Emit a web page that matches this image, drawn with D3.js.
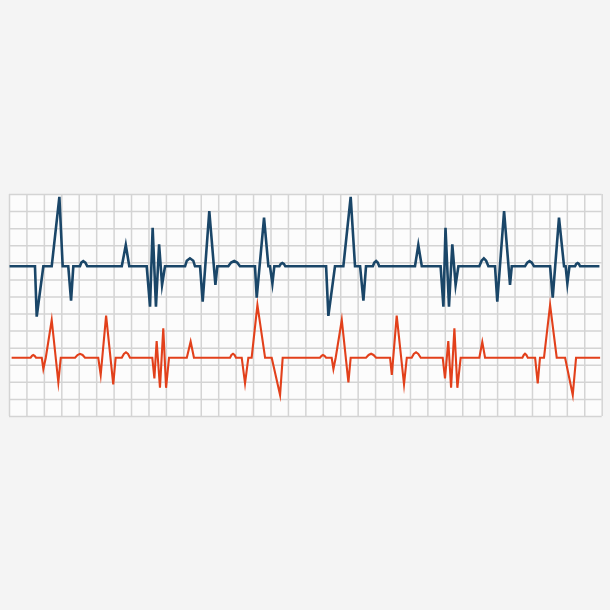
<!DOCTYPE html>
<html>
<head>
<meta charset="utf-8">
<script src="https://cdn.jsdelivr.net/npm/d3@7"></script>
<style>
  html, body { margin: 0; padding: 0; background: #f4f4f4; }
  svg { display: block; }
</style>
</head>
<body>
<svg id="chart" width="610" height="610"></svg>
<script>
// Grid (in large-square units)
const gridColumns = 34;
const gridRows = 13;

// Baselines of the two traces (grid units measured up from bottom)
const blueBaseline = 8.765;
const redBaseline = 3.413;

// Blue trace: time (grid columns) and amplitude (grid rows relative to baseline)
const blueTime = [
  0.03, 1.49, 1.59, 1.97, 2.45, 2.89, 3.08, 3.40, 3.56, 3.69,
  4.07, 4.15, 4.26, 4.38, 4.49, 6.47, 6.70, 6.90, 7.90, 8.09,
  8.24, 8.43, 8.61, 8.78, 8.95, 10.10, 10.20, 10.38, 10.57, 10.67,
  10.96, 11.11, 11.49, 11.84, 11.95, 12.58, 12.74, 12.92, 13.09, 13.25,
  14.11, 14.21, 14.63, 14.88, 14.97, 15.11, 15.22, 15.51, 15.59, 15.68,
  15.77, 15.85, 18.19, 18.32, 18.70, 19.18, 19.60, 19.85, 20.14, 20.33,
  20.48, 20.87, 20.96, 21.06, 21.15, 21.24, 23.29, 23.48, 23.68, 24.76,
  24.92, 25.04, 25.24, 25.43, 25.62, 25.78, 26.98, 27.11, 27.24, 27.37,
  27.50, 27.88, 28.01, 28.40, 28.74, 28.84, 29.60, 29.73, 29.86, 29.99,
  30.12, 31.04, 31.19, 31.55, 31.84, 31.93, 32.03, 32.15, 32.47, 32.54,
  32.62, 32.69, 32.76, 33.87
];
const blueAmp = [
  0, 0, -2.95, 0, 0, 4.07, 0, 0, -2.01, 0,
  0, 0.22, 0.31, 0.22, 0, 0, 1.25, 0, 0, -2.36,
  2.26, -2.36, 1.29, -1.09, 0, 0, 0.33, 0.47, 0.33, 0,
  0, -2.07, 3.24, -1.09, 0, 0, 0.22, 0.31, 0.22, 0,
  0, -1.84, 2.85, 0, 0, -1.0, 0, 0, 0.14, 0.19,
  0.14, 0, 0, -2.9, 0, 0, 4.07, 0, 0, -2.01,
  0, 0, 0.22, 0.31, 0.22, 0, 0, 1.25, 0, 0,
  -2.36, 2.26, -2.36, 1.29, -1.09, 0, 0, 0.33, 0.47, 0.33,
  0, 0, -2.07, 3.24, -1.09, 0, 0, 0.22, 0.31, 0.22,
  0, 0, -1.84, 2.85, 0, 0, -1.0, 0, 0, 0.14,
  0.19, 0.14, 0, 0
];

// Red trace
const redTime = [
  0.15, 1.24, 1.32, 1.39, 1.47, 1.55, 1.88, 1.97, 2.11, 2.45,
  2.83, 2.97, 3.79, 3.93, 4.07, 4.22, 4.36, 5.12, 5.26, 5.57,
  5.98, 6.12, 6.47, 6.59, 6.71, 6.83, 6.94, 8.22, 8.34, 8.47,
  8.66, 8.85, 9.01, 9.18, 10.20, 10.42, 10.61, 12.68, 12.76, 12.85,
  12.94, 13.02, 13.35, 13.54, 13.73, 13.92, 14.25, 14.69, 15.07, 15.55,
  15.70, 17.84, 17.93, 18.01, 18.10, 18.19, 18.51, 18.61, 18.74, 19.09,
  19.47, 19.60, 20.48, 20.63, 20.77, 20.91, 21.06, 21.86, 21.96, 22.24,
  22.66, 22.82, 23.10, 23.22, 23.35, 23.48, 23.62, 24.88, 25.01, 25.20,
  25.36, 25.55, 25.72, 25.91, 26.98, 27.15, 27.31, 29.45, 29.53, 29.60,
  29.68, 29.76, 30.18, 30.33, 30.46, 30.69, 31.04, 31.42, 31.90, 32.34,
  32.53, 33.91
];
const redAmp = [
  0, 0, 0.11, 0.16, 0.11, 0, 0, -0.66, 0, 2.21,
  -1.44, 0, 0, 0.16, 0.23, 0.16, 0, 0, -1.01, 2.46,
  -1.56, 0, 0, 0.22, 0.32, 0.22, 0, 0, -1.21, 0.98,
  -1.76, 1.72, -1.76, 0, 0, 0.94, 0, 0, 0.16, 0.23,
  0.16, 0, 0, -1.5, 0, 0, 3.09, 0, 0, -2.18,
  0, 0, 0.11, 0.16, 0.11, 0, 0, -0.66, 0, 2.21,
  -1.44, 0, 0, 0.16, 0.23, 0.16, 0, 0, -1.01, 2.46,
  -1.56, 0, 0, 0.22, 0.32, 0.22, 0, 0, -1.21, 0.98,
  -1.76, 1.72, -1.76, 0, 0, 0.92, 0, 0, 0.16, 0.23,
  0.16, 0, 0, -1.5, 0, 0, 3.09, 0, 0, -2.18,
  0, 0
];

const svg = d3.select("#chart");
const gLeft = 9, gRight = 601.7, gTop = 194, gBottom = 416;

const x = d3.scaleLinear().domain([0, gridColumns]).range([gLeft, gRight]);
const y = d3.scaleLinear().domain([0, gridRows]).range([gBottom, gTop]);

// Paper
svg.append("rect")
  .attr("x", gLeft).attr("y", gTop)
  .attr("width", gRight - gLeft).attr("height", gBottom - gTop)
  .attr("fill", "#fcfcfc");

// Grid via axes
const gx = svg.append("g")
  .attr("transform", `translate(0,${gBottom})`)
  .call(d3.axisBottom(x).tickValues(d3.range(0, gridColumns + 1)).tickSize(-(gBottom - gTop)).tickFormat(""));
const gy = svg.append("g")
  .attr("transform", `translate(${gLeft},0)`)
  .call(d3.axisLeft(y).tickValues(d3.range(0, gridRows + 1)).tickSize(-(gRight - gLeft)).tickFormat(""));
[gx, gy].forEach(g => {
  g.select(".domain").remove();
  g.selectAll(".tick line").attr("stroke", "#d4d4d4").attr("stroke-width", 1.5);
});

const line = d3.line().x(d => x(d[0])).y(d => y(d[1]));

const blueData = blueTime.map((t, i) => [t, blueBaseline + blueAmp[i]]);
const redData = redTime.map((t, i) => [t, redBaseline + redAmp[i]]);

svg.append("path")
  .datum(redData)
  .attr("d", line)
  .attr("fill", "none")
  .attr("stroke", "#e2401b")
  .attr("stroke-width", 2.1)
  .attr("stroke-linejoin", "miter")
  .attr("stroke-miterlimit", 10);

svg.append("path")
  .datum(blueData)
  .attr("d", line)
  .attr("fill", "none")
  .attr("stroke", "#1a4668")
  .attr("stroke-width", 2.6)
  .attr("stroke-linejoin", "miter")
  .attr("stroke-miterlimit", 10);
</script>
</body>
</html>
